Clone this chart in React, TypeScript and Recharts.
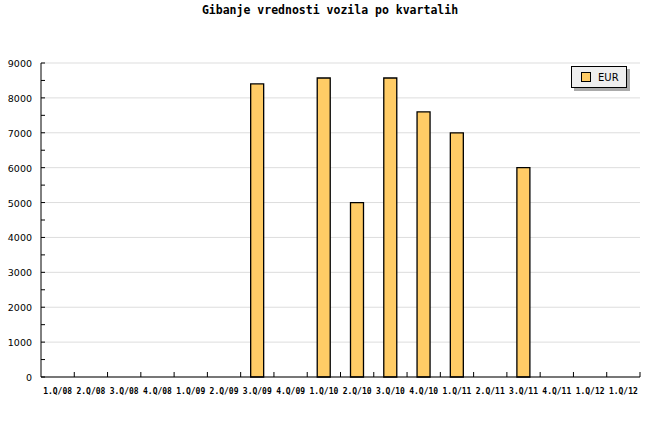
import React from 'react';
import { BarChart, Bar, XAxis, YAxis, CartesianGrid } from 'recharts';

const quarters = [
  '1.Q/08', '2.Q/08', '3.Q/08', '4.Q/08', '1.Q/09', '2.Q/09', '3.Q/09', '4.Q/09', '1.Q/10',
  '2.Q/10', '3.Q/10', '4.Q/10', '1.Q/11', '2.Q/11', '3.Q/11', '4.Q/11', '1.Q/12', '1.Q/12',
];
const eurValues = [0, 0, 0, 0, 0, 0, 8400, 0, 8570, 5000, 8570, 7600, 7000, 0, 6000, 0, 0, 0];
const yTicks = [0, 1000, 2000, 3000, 4000, 5000, 6000, 7000, 8000, 9000];

const data = quarters.map((q, i) => ({ id: i, quarter: q, eur: eurValues[i] || null }));

const mono = '"DejaVu Sans Mono", monospace';
const sans = '"DejaVu Sans", sans-serif';

const XTick = (props: any) => {
  const { x, y, payload, width, visibleTicksCount } = props;
  const step = width / (visibleTicksCount || quarters.length);
  const axisY = y - 9;
  const bx = x + step / 2;
  return (
    <g>
      <line x1={bx} x2={bx} y1={axisY} y2={axisY - 5} stroke="#000" />
      <text x={x} y={axisY + 17} textAnchor="middle" fontFamily={mono} fontWeight="bold" fontSize={8} fill="#000">
        {quarters[payload.value]}
      </text>
    </g>
  );
};

const YTick = (props: any) => {
  const { x, y, payload, height } = props;
  const axisX = x + 9;
  const half = height / (yTicks.length - 1) / 2;
  return (
    <g>
      <line x1={axisX} x2={axisX + 4} y1={y} y2={y} stroke="#000" />
      {payload.value < 9000 && <line x1={axisX} x2={axisX + 4} y1={y - half} y2={y - half} stroke="#000" />}
      <text x={x} y={y + 4} textAnchor="end" fontFamily={sans} fontSize={9.5} fill="#000">
        {payload.value}
      </text>
    </g>
  );
};

const LegendBox = () => (
  <div style={{ position: 'absolute', top: 66, left: 571, width: 60, height: 26 }}>
    <div style={{ position: 'absolute', left: 3, top: 3, width: 56, height: 22, background: '#aaa' }} />
    <div
      style={{
        position: 'absolute', left: 0, top: 0, width: 54, height: 20, background: '#eee',
        border: '1px solid #000', display: 'flex', alignItems: 'center',
      }}
    >
      <div style={{ width: 8, height: 8, marginLeft: 9, background: '#ffcc66', border: '1px solid #000' }} />
      <span style={{ marginLeft: 7, fontFamily: sans, fontSize: 10, color: '#000' }}>EUR</span>
    </div>
  </div>
);

export default function App() {
  React.useEffect(() => {
    document.body.style.margin = '0';
  }, []);
  return (
    <div style={{ position: 'relative', width: 660, height: 440, background: '#fff' }}>
      <div
        style={{
          position: 'absolute', top: 3, left: 0, width: 660, textAlign: 'center',
          fontFamily: mono, fontWeight: 'bold', fontSize: 11.5, color: '#000',
        }}
      >
        Gibanje vrednosti vozila po kvartalih
      </div>
      <BarChart width={660} height={440} data={data} margin={{ top: 63, right: 20, bottom: 0, left: 0 }} barCategoryGap={0}>
        <CartesianGrid vertical={false} stroke="#dddddd" />
        <XAxis
          dataKey="id"
          height={63}
          tickSize={0}
          tickMargin={9}
          tickLine={false}
          axisLine={{ stroke: '#000' }}
          interval={0}
          tick={<XTick />}
        />
        <YAxis
          width={41}
          domain={[0, 9000]}
          ticks={yTicks}
          tickSize={0}
          tickMargin={9}
          tickLine={false}
          axisLine={{ stroke: '#000' }}
          tick={<YTick />}
        />
        <Bar dataKey="eur" name="EUR" fill="#ffcc66" stroke="#000" strokeWidth={1.3} barSize={13} isAnimationActive={false} />
      </BarChart>
      <LegendBox />
    </div>
  );
}
